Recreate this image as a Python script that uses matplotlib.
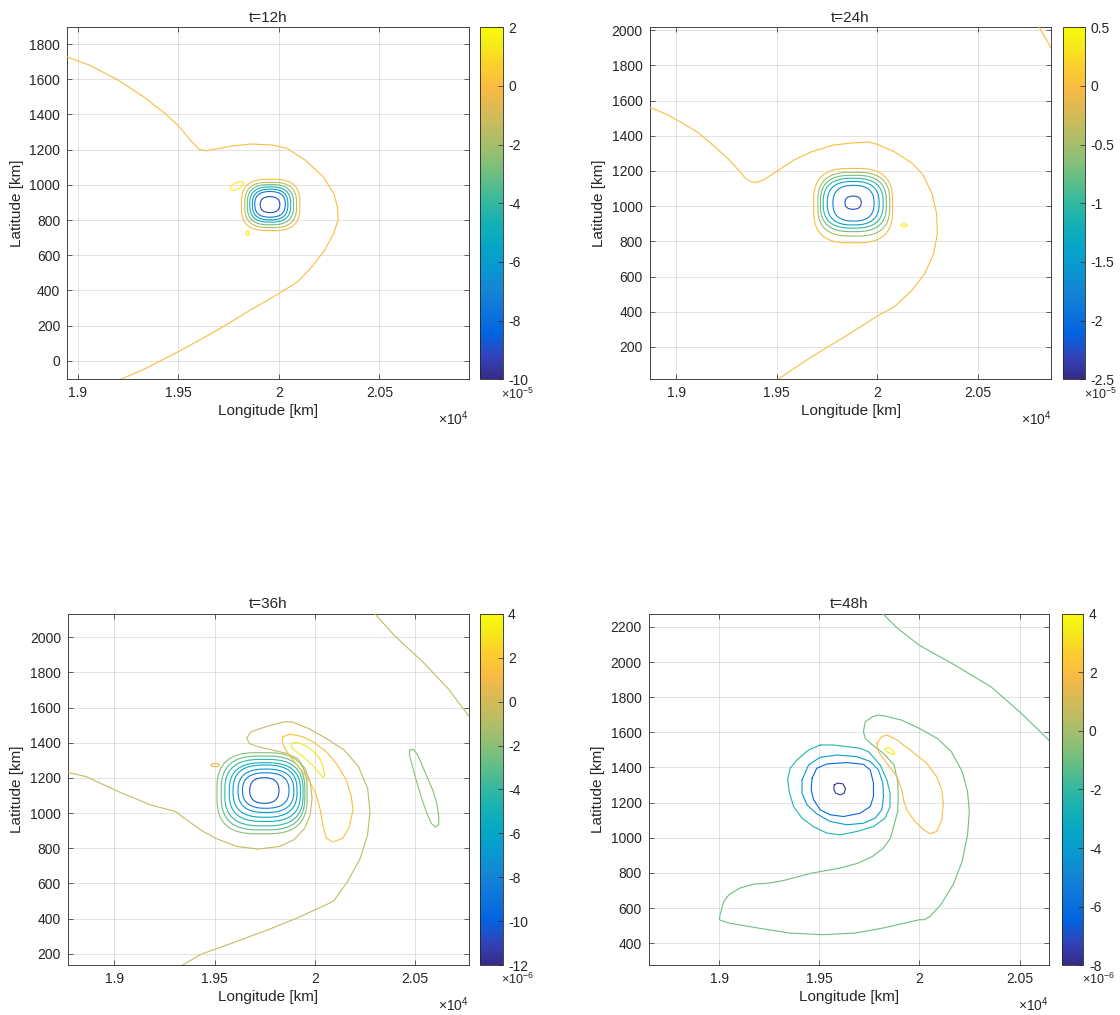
import matplotlib
matplotlib.use("Agg")
import matplotlib.pyplot as plt
from matplotlib.colors import LinearSegmentedColormap, Normalize
from matplotlib.cm import ScalarMappable
from matplotlib.patches import FancyBboxPatch, Ellipse
from matplotlib.ticker import MultipleLocator, FuncFormatter

plt.rcParams["font.family"] = ["Liberation Sans", "DejaVu Sans"]
plt.rcParams["axes.unicode_minus"] = False
plt.rcParams["mathtext.fontset"] = "custom"
plt.rcParams["mathtext.rm"] = "Liberation Sans"
plt.rcParams["mathtext.it"] = "Liberation Sans:italic"

TXT = "#262626"
LW = 0.8

# parula colour map (every 4th entry of the 64-colour table)
PARULA = [
    (0.2081, 0.1663, 0.5292), (0.1959, 0.2645, 0.7279), (0.0117, 0.3875, 0.8820),
    (0.0498, 0.4586, 0.8641), (0.0793, 0.5200, 0.8312), (0.0343, 0.5966, 0.8199),
    (0.0228, 0.6535, 0.7768), (0.0843, 0.6928, 0.7062), (0.2178, 0.7250, 0.6193),
    (0.3953, 0.7459, 0.5244), (0.5709, 0.7485, 0.4494), (0.7184, 0.7411, 0.3905),
    (0.8507, 0.7299, 0.3360), (0.9739, 0.7314, 0.2666), (0.9880, 0.8066, 0.1794),
    (0.9598, 0.9218, 0.0948), (0.9763, 0.9831, 0.0538),
]
PARULA_POS = [0, 4, 8, 12, 16, 20, 24, 28, 32, 36, 40, 44, 48, 52, 56, 60, 63]
parula = LinearSegmentedColormap.from_list(
    "parula", [(p / 63.0, c) for p, c in zip(PARULA_POS, PARULA)])

# ---------------- t = 12 h  (field in units of 1e-5) ----------------
t12_center = (19946, 895)
t12_clim = (-10, 2)
t12_cticks = [-10, -8, -6, -4, -2, 0, 2]
t12_outer_level = 0
t12_zero_lon = [18946, 19059, 19202, 19327, 19434, 19505, 19559, 19604, 19639, 19684,
                19773, 19862, 19970, 20041, 20130, 20220, 20273, 20291, 20295, 20273,
                20229, 20166, 20095, 20005, 19862, 19684, 19505, 19327, 19211]
t12_zero_lat = [1726, 1679, 1594, 1500, 1405, 1330, 1254, 1201, 1194, 1203,
                1222, 1232, 1226, 1207, 1141, 1047, 952, 877, 801, 725,
                631, 536, 451, 385, 291, 168, 55, -49, -106]
t12_ring_levels = [0, -1.5, -3, -4.5, -6, -7.5, -9]
t12_ring_west = [19814, 19830, 19843, 19855, 19868, 19880, 19907]
t12_ring_east = [20104, 20088, 20073, 20059, 20045, 20032, 20005]
t12_ring_south = [740, 757, 773, 788, 801, 816, 842]
t12_ring_north = [1031, 1014, 1001, 988, 975, 962, 933]
t12_blob_lon = [19791, 19845]
t12_blob_lat = [994, 725]
t12_blob_w = [75, 14]
t12_blob_h = [35, 26]
t12_blob_angle = [30, 0]
t12_blob_levels = [1.5, 1.5]

# ---------------- t = 24 h  (units of 1e-5) ----------------
t24_center = (19868, 1016)
t24_clim = (-2.5, 0.5)
t24_cticks = [-2.5, -2, -1.5, -1, -0.5, 0, 0.5]
t24_outer_level = 0
t24_zero_lon = [18869, 18961, 19103, 19193, 19264, 19318, 19345, 19371, 19398, 19434,
                19496, 19586, 19675, 19782, 19889, 19961, 19996, 20086, 20175, 20229,
                20273, 20296, 20300, 20282, 20238, 20175, 20086, 19996, 19854, 19675, 19502]
t24_zero_lat = [1561, 1517, 1423, 1337, 1262, 1195, 1158, 1139, 1135, 1148,
                1195, 1262, 1309, 1347, 1360, 1364, 1353, 1309, 1243, 1177,
                1072, 959, 845, 732, 618, 523, 429, 372, 268, 145, 12]
t24_corner_lon = [20805, 20839, 20870]
t24_corner_lat = [2020, 1953, 1890]
t24_ring_levels = [0, -0.5, -0.75, -1.0, -1.4, -1.75, -2.25]
t24_ring_west = [19684, 19705, 19718, 19732, 19752, 19780, 19840]
t24_ring_east = [20077, 20063, 20046, 20030, 20010, 19985, 19921]
t24_ring_south = [792, 830, 855, 875, 893, 915, 982]
t24_ring_north = [1214, 1192, 1175, 1158, 1140, 1118, 1057]
t24_blob_lon = [20134]
t24_blob_lat = [891]
t24_blob_w = [30]
t24_blob_h = [16]
t24_blob_angle = [0]
t24_blob_levels = [0.4]

# ---------------- t = 36 h  (units of 1e-6) ----------------
t36_center = (19768, 1134)
t36_clim = (-12, 4)
t36_cticks = [-12, -10, -8, -6, -4, -2, 0, 2, 4]
t36_outer_level = -0.5
t36_zero_lon = [18768, 18859, 19020, 19181, 19306, 19342, 19431, 19503, 19610, 19717,
                19825, 19896, 19950, 19977, 19986, 19977, 19950, 19914, 19861, 19789,
                19717, 19673, 19660, 19682, 19753, 19843, 19887, 19968, 20057, 20147,
                20218, 20263, 20275, 20263, 20227, 20164, 20093, 20021, 19914, 19771,
                19592, 19431, 19333]
t36_zero_lat = [1231, 1207, 1122, 1046, 1008, 976, 904, 857, 810, 795,
                810, 848, 914, 989, 1084, 1178, 1254, 1310, 1339, 1358,
                1377, 1396, 1428, 1462, 1490, 1518, 1518, 1481, 1424, 1358,
                1263, 1141, 1008, 876, 744, 612, 498, 460, 404, 338,
                262, 196, 130]
t36_ne_lon = [20299, 20397, 20540, 20665, 20768]
t36_ne_lat = [2134, 2009, 1858, 1707, 1552]
t36_ring_levels = [-2, -3, -4, -5, -6, -7, -8.5, -10.5]
t36_ring_west = [19512, 19533, 19551, 19573, 19592, 19617, 19639, 19675]
t36_ring_east = [19961, 19950, 19941, 19928, 19911, 19895, 19871, 19821]
t36_ring_south = [882, 904, 927, 952, 976, 1003, 1027, 1055]
t36_ring_north = [1343, 1324, 1305, 1286, 1273, 1250, 1229, 1201]
t36_hook_lon = [19841, 19875, 19941, 19991, 20057, 20107, 20157, 20182, 20190, 20173,
                20140, 20090, 20057, 20041, 20027, 20007, 19974, 19933, 19883, 19850, 19838]
t36_hook_lat = [1434, 1449, 1434, 1405, 1349, 1282, 1188, 1094, 1018, 924,
                857, 835, 857, 924, 1018, 1103, 1179, 1245, 1311, 1368, 1405]
t36_hook_level = 1.5
t36_peak_lon = [19883, 19908, 19949, 19991, 20024, 20041, 20049, 20041, 20016, 19982,
                19941, 19899, 19883]
t36_peak_lat = [1396, 1402, 1386, 1354, 1311, 1264, 1216, 1203, 1235, 1279,
                1320, 1358, 1377]
t36_peak_level = 3
t36_east_lon = [20472, 20492, 20513, 20538, 20563, 20588, 20608, 20618, 20618, 20601,
                20580, 20555, 20530, 20505, 20485, 20472]
t36_east_lat = [1358, 1362, 1330, 1264, 1197, 1131, 1056, 980, 933, 920,
                942, 1009, 1094, 1188, 1273, 1330]
t36_east_level = -2
t36_blob_lon = [19503]
t36_blob_lat = [1273]
t36_blob_w = [40]
t36_blob_h = [18]
t36_blob_angle = [0]
t36_blob_levels = [0.5]

# ---------------- t = 48 h  (units of 1e-6) ----------------
t48_center = (19647, 1275)
t48_clim = (-8, 4)
t48_cticks = [-8, -6, -4, -2, 0, 2, 4]
t48_outer_level = -1
t48_zero_lon = [19720, 19729, 19765, 19792, 19819, 19909, 19998, 20088, 20159, 20213,
                20240, 20249, 20240, 20213, 20168, 20106, 20052, 20025, 19998, 19927,
                19819, 19676, 19514, 19353, 19192, 19048, 19000, 19004, 19022, 19048,
                19102, 19174, 19246, 19317, 19461, 19604, 19694, 19765, 19819, 19855,
                19873, 19891, 19894, 19891, 19873, 19819, 19765, 19729]
t48_zero_lat = [1604, 1660, 1689, 1698, 1695, 1670, 1623, 1566, 1490, 1377,
                1263, 1149, 1017, 865, 733, 619, 553, 534, 534, 515,
                487, 458, 449, 458, 487, 515, 534, 563, 638, 676,
                714, 737, 742, 756, 799, 828, 856, 894, 941, 998,
                1074, 1149, 1225, 1320, 1414, 1481, 1528, 1566]
t48_ne_lon = [19815, 19891, 19998, 20177, 20357, 20500, 20650]
t48_ne_lat = [2276, 2191, 2096, 1982, 1859, 1717, 1552]
t48_r1_lon = [19504, 19571, 19704, 19745, 19803, 19837, 19853, 19853, 19828, 19770,
              19687, 19604, 19537, 19471, 19413, 19371, 19351, 19341, 19354, 19388, 19446]
t48_r1_lat = [1528, 1528, 1509, 1490, 1415, 1329, 1254, 1178, 1112, 1064,
              1036, 1017, 1027, 1063, 1112, 1178, 1254, 1329, 1396, 1443, 1500]
t48_r2_lon = [19413, 19446, 19504, 19587, 19687, 19754, 19795, 19817, 19820, 19812,
              19778, 19720, 19637, 19554, 19487, 19438, 19413]
t48_r2_lat = [1329, 1415, 1458, 1471, 1462, 1434, 1386, 1311, 1235, 1159,
              1112, 1083, 1074, 1093, 1136, 1187, 1254]
t48_r3_lon = [19463, 19487, 19537, 19637, 19720, 19754, 19770, 19770, 19754, 19704,
              19620, 19554, 19504, 19471, 19459]
t48_r3_lat = [1339, 1396, 1420, 1428, 1418, 1386, 1311, 1235, 1178, 1140,
              1121, 1131, 1159, 1216, 1273]
t48_r4_lon = [19574, 19591, 19617, 19630, 19624, 19604, 19581, 19572]
t48_r4_lat = [1301, 1311, 1307, 1282, 1254, 1244, 1254, 1276]
t48_ring_levels = [-2.4, -4, -6.2, -7.6]
t48_pos_lon = [19787, 19812, 19837, 19887, 19953, 20036, 20086, 20111, 20119, 20111,
               20086, 20053, 20020, 19978, 19936, 19920, 19912, 19887, 19837, 19795]
t48_pos_lat = [1538, 1576, 1585, 1557, 1500, 1424, 1348, 1273, 1197, 1102,
               1036, 1023, 1046, 1093, 1159, 1216, 1273, 1348, 1424, 1490]
t48_pos_level = 2
t48_peak_lon = [19828, 19845, 19870, 19878, 19862, 19837]
t48_peak_lat = [1504, 1515, 1496, 1477, 1475, 1490]
t48_peak_level = 3.5

HALF_SPAN = 1000  # km on each side of the vortex centre


def line(ax, norm, lon, lat, level, closed=False):
    x, y = list(lon), list(lat)
    if closed:
        x.append(x[0])
        y.append(y[0])
    ax.plot(x, y, color=parula(norm(level)), lw=LW, solid_joinstyle="round",
            solid_capstyle="round", zorder=3)


def rings(ax, norm, levels, west, east, south, north):
    n = len(levels)
    for i, (lv, w, e, s, nn) in enumerate(zip(levels, west, east, south, north)):
        hw, hh = (e - w) / 2.0, (nn - s) / 2.0
        rnd = 0.82 + 0.16 * i / max(n - 1, 1)
        ax.add_patch(FancyBboxPatch(
            (w, s), e - w, nn - s,
            boxstyle=f"round,pad=0,rounding_size={rnd * hw}",
            mutation_aspect=hh / hw, fc="none", ec=parula(norm(lv)), lw=LW, zorder=3))


def blobs(ax, norm, lon, lat, wid, hgt, ang, levels):
    for x, y, w, h, a, lv in zip(lon, lat, wid, hgt, ang, levels):
        ax.add_patch(Ellipse((x, y), w, h, angle=a, fc="none",
                             ec=parula(norm(lv)), lw=LW, zorder=3))


def frame(fig, rect, crect, title, center, clim, cticks, exp):
    ax = fig.add_axes(rect)
    ax.set_xlim(center[0] - HALF_SPAN, center[0] + HALF_SPAN)
    ax.set_ylim(center[1] - HALF_SPAN, center[1] + HALF_SPAN)
    ax.xaxis.set_major_locator(MultipleLocator(500))
    ax.yaxis.set_major_locator(MultipleLocator(200))
    ax.xaxis.set_major_formatter(FuncFormatter(lambda v, p: f"{v / 1e4:g}"))
    ax.grid(True, color=TXT, alpha=0.15, lw=0.6)
    ax.set_axisbelow(True)
    ax.tick_params(direction="in", top=True, right=True, length=3.5, width=0.5,
                   labelsize=10, colors=TXT, pad=5)
    for s in ax.spines.values():
        s.set_linewidth(0.6)
        s.set_color(TXT)
    ax.set_title(title, fontsize=11, color=TXT, pad=4)
    ax.set_xlabel("Longitude [km]", fontsize=11, color=TXT, labelpad=3)
    ax.set_ylabel("Latitude [km]", fontsize=11, color=TXT, labelpad=4)
    ax.text(1.0, -0.112, r"$\times$10$^{4}$", transform=ax.transAxes,
            ha="right", va="center", fontsize=10, color=TXT)

    norm = Normalize(*clim)
    cax = fig.add_axes(crect)
    cb = fig.colorbar(ScalarMappable(norm=norm, cmap=parula), cax=cax, ticks=cticks)
    cb.ax.set_yticklabels([f"{t:g}" for t in cticks])
    cb.ax.tick_params(direction="in", length=3.5, width=0.5, labelsize=10,
                      colors=TXT, pad=4)
    cb.outline.set_linewidth(0.6)
    cb.outline.set_edgecolor(TXT)
    cax.text(0.95, -0.02, r"$\times$10$^{" + exp + "}$", transform=cax.transAxes,
             ha="left", va="top", fontsize=9, color=TXT)
    return ax, norm


fig = plt.figure(figsize=(11.2, 10.15), dpi=100)

# t = 12 h
ax, nm = frame(fig, [0.0599, 0.6263, 0.3588, 0.3468], [0.4289, 0.6263, 0.0198, 0.3468],
               "t=12h", t12_center, t12_clim, t12_cticks, "-5")
line(ax, nm, t12_zero_lon, t12_zero_lat, t12_outer_level)
rings(ax, nm, t12_ring_levels, t12_ring_west, t12_ring_east, t12_ring_south, t12_ring_north)
blobs(ax, nm, t12_blob_lon, t12_blob_lat, t12_blob_w, t12_blob_h, t12_blob_angle, t12_blob_levels)

# t = 24 h
ax, nm = frame(fig, [0.5801, 0.6263, 0.3587, 0.3468], [0.9488, 0.6263, 0.0199, 0.3468],
               "t=24h", t24_center, t24_clim, t24_cticks, "-5")
line(ax, nm, t24_zero_lon, t24_zero_lat, t24_outer_level)
line(ax, nm, t24_corner_lon, t24_corner_lat, t24_outer_level)
rings(ax, nm, t24_ring_levels, t24_ring_west, t24_ring_east, t24_ring_south, t24_ring_north)
blobs(ax, nm, t24_blob_lon, t24_blob_lat, t24_blob_w, t24_blob_h, t24_blob_angle, t24_blob_levels)

# t = 36 h
ax, nm = frame(fig, [0.0606, 0.0490, 0.3580, 0.3464], [0.4289, 0.0490, 0.0198, 0.3464],
               "t=36h", t36_center, t36_clim, t36_cticks, "-6")
line(ax, nm, t36_zero_lon, t36_zero_lat, t36_outer_level)
line(ax, nm, t36_ne_lon, t36_ne_lat, t36_outer_level)
rings(ax, nm, t36_ring_levels, t36_ring_west, t36_ring_east, t36_ring_south, t36_ring_north)
line(ax, nm, t36_hook_lon, t36_hook_lat, t36_hook_level, closed=True)
line(ax, nm, t36_peak_lon, t36_peak_lat, t36_peak_level, closed=True)
line(ax, nm, t36_east_lon, t36_east_lat, t36_east_level, closed=True)
blobs(ax, nm, t36_blob_lon, t36_blob_lat, t36_blob_w, t36_blob_h, t36_blob_angle, t36_blob_levels)

# t = 48 h
ax, nm = frame(fig, [0.5792, 0.0490, 0.3574, 0.3464], [0.9478, 0.0490, 0.0195, 0.3464],
               "t=48h", t48_center, t48_clim, t48_cticks, "-6")
line(ax, nm, t48_zero_lon, t48_zero_lat, t48_outer_level, closed=True)
line(ax, nm, t48_ne_lon, t48_ne_lat, t48_outer_level)
for lon, lat, lv in zip([t48_r1_lon, t48_r2_lon, t48_r3_lon, t48_r4_lon],
                        [t48_r1_lat, t48_r2_lat, t48_r3_lat, t48_r4_lat],
                        t48_ring_levels):
    line(ax, nm, lon, lat, lv, closed=True)
line(ax, nm, t48_pos_lon, t48_pos_lat, t48_pos_level, closed=True)
line(ax, nm, t48_peak_lon, t48_peak_lat, t48_peak_level, closed=True)

fig.savefig("out.png", dpi=100, facecolor="white")
